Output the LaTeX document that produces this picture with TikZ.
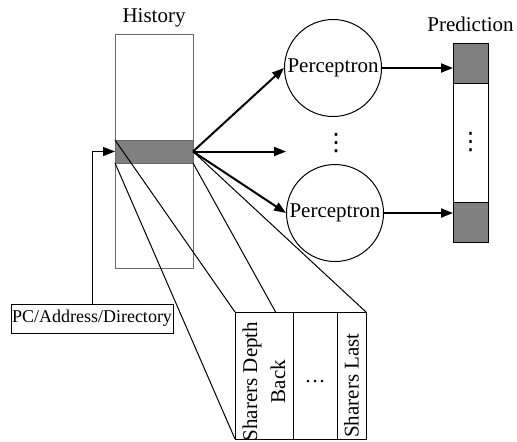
\documentclass[tikz,border=0pt]{standalone}
\usepackage{fontspec}
\setmainfont{Liberation Serif}
\newfontfamily\dotsfont{DejaVu Sans}
\usetikzlibrary{arrows.meta,positioning,calc}
\definecolor{borda}{HTML}{6A6A6A}
\definecolor{sombra}{HTML}{808080}

\begin{document}
\begin{tikzpicture}[x=0.5pt, y=-0.5pt, line width=0.5pt,
  font=\fontsize{10.5}{14}\selectfont,
  bx/.style={draw, outer sep=0pt, inner sep=0pt},
  hx/.style={bx, draw=borda, minimum width=39pt},
  sx/.style={bx, fill=sombra},
  px/.style={draw, circle, minimum size=48.5pt, inner sep=0pt},
  cx/.style={bx, minimum height=63.5pt},
  dx/.style={inner sep=0pt, font=\dotsfont\fontsize{12}{14}\selectfont},
  seta/.style={-{Triangle[length=6pt,width=4.5pt]}, line width=1pt},
  fio/.style={line width=0.5pt}]
  \useasboundingbox (0,0) rectangle (517,441);
  % historico
  \node[hx, minimum height=117pt] (hist) at (154,151) {};
  \node[hx, sx, draw=borda, minimum height=11.5pt] (hrow) at (154,151.5) {};
  \node[above=0pt of hist] (lhist) {History};
  % entrada
  \node[bx, minimum width=81pt, minimum height=14.5pt, font=\fontsize{9}{11}\selectfont] (pc) at (92,318.5) {PC/Address/Directory};
  \draw[fio, -{Triangle[length=6pt,width=4.5pt]}] (pc.north) |- (hrow.west);
  % perceptrons
  \node[px] (p1) at (333,68) {Perceptron};
  \node[px] (p2) at (335,213) {Perceptron};
  \node[dx] (vd1) at (336,143) {⋮};
  % predicao
  \node[bx, minimum width=17.5pt, minimum height=99.5pt] (pred) at (470.5,142.5) {};
  \node[sx, minimum width=17.5pt, minimum height=20pt, below=0pt of pred.north] (pt1) {};
  \node[sx, minimum width=17.5pt, minimum height=20pt, above=0pt of pred.south] (pt2) {};
  \node[dx] (vd2) at (pred.center) {⋮};
  \node[above=2pt of pred] (lpred) {Prediction};
  % campos
  \node[cx, minimum width=29pt] (s1) at (264,375.5) {};
  \node[cx, minimum width=22pt, right=0pt of s1] (s2) {};
  \node[cx, minimum width=14.5pt, right=0pt of s2] (s3) {};
  \node[rotate=90, align=center] (t1) at ([yshift=-3pt]s1.center) {Sharers Depth\\Back};
  \node (t2) at ([yshift=-3pt]s2.center) {\ldots};
  \node[rotate=90] (t3) at ([yshift=-5pt]s3.center) {Sharers Last};
  % ligacoes
  \coordinate (fan) at (hrow.east);
  \coordinate (mid) at (fan -| p2.west);
  \coordinate (k) at ($(s1.north west)!0.7!(s1.north east)$);
  \foreach \a/\b in {hrow.north west/s1.north west, hrow.south west/s1.south west,
    hrow.south east/k, fan/s3.north east}
    \draw[fio] (\a) -- (\b);
  \foreach \b in {p1.west, mid, p2.west}
    \draw[seta] (fan) -- (\b);
  \draw[seta] (p1.east) -- (p1.east -| pt1.west);
  \draw[seta] (p2.east) -- (p2.east -| pt2.west);
\end{tikzpicture}
\end{document}
